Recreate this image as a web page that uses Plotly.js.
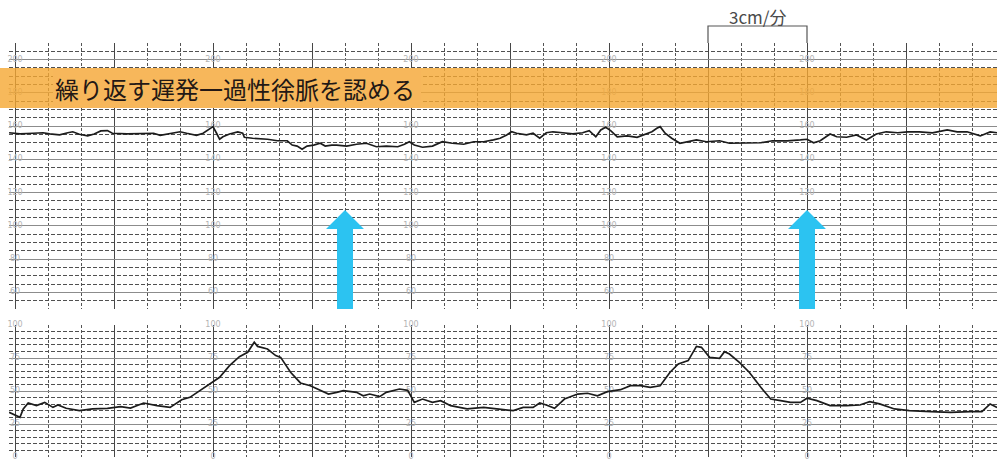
<!DOCTYPE html>
<html>
<head>
<meta charset="utf-8">
<script src="https://cdn.plot.ly/plotly-3.0.1.min.js"></script>
<style>
  html, body { margin: 0; padding: 0; background: #ffffff; }
  #ctg { width: 997px; height: 459px; }
</style>
</head>
<body>
<div id="ctg"></div>
<script>
// Cardiotocogram strip: fetal heart rate (top) and uterine contractions (bottom).
// Time is in seconds; paper speed is 3 cm per minute.

// Fetal heart rate trace (bpm)
const fhrTime = [-3.6, 3, 11, 17, 21, 27, 32, 35, 39, 44,
  48, 52, 56, 59, 68, 76, 84, 88, 94, 100,
  104, 110, 114, 118, 120, 122, 124, 126, 130, 135,
  138, 139, 144, 153, 159, 165, 168, 171, 174, 177,
  181, 185, 188, 192, 195, 201, 207, 213, 219, 225,
  232, 236, 239, 242, 247, 253, 259, 265, 272, 278,
  284, 290, 294, 298, 301, 304, 310, 314, 318, 322,
  326, 332, 338, 344, 348, 352, 355, 358, 361, 365,
  371, 377, 382, 386, 389, 391, 394, 398, 403, 407,
  413, 419, 427, 433, 444, 452, 459, 468, 476, 480,
  484, 488, 494, 498, 504, 510, 516, 522, 528, 535,
  541, 548, 556, 565, 571, 577, 585, 591, 595.2];
const fhrBpm = [156.0, 155.3, 155.7, 156.0, 155.3, 154.8, 156.0, 156.6, 155.1, 154.1,
  155.3, 157.1, 157.3, 155.7, 155.3, 155.3, 155.7, 154.5, 155.7, 156.6,
  155.7, 154.5, 155.7, 158.1, 159.7, 156.0, 152.1, 153.6, 155.3, 156.5,
  155.7, 153.3, 152.7, 152.1, 151.2, 151.2, 148.6, 148.0, 146.1, 148.0,
  148.6, 149.7, 148.0, 148.6, 148.6, 148.0, 149.1, 149.7, 147.6, 148.0,
  147.6, 149.1, 150.6, 148.6, 147.3, 148.0, 150.6, 149.7, 149.1, 150.6,
  150.6, 151.7, 152.7, 154.7, 156.6, 155.7, 154.7, 155.7, 152.7, 156.0,
  156.6, 156.0, 155.3, 156.0, 157.3, 153.6, 157.7, 159.3, 157.3, 153.6,
  154.1, 153.3, 155.3, 156.6, 158.7, 159.7, 155.7, 152.7, 149.7, 150.6,
  151.7, 150.6, 151.2, 149.7, 149.7, 150.0, 151.2, 151.1, 151.7, 152.1,
  150.0, 151.2, 155.3, 153.6, 153.3, 154.7, 151.7, 155.3, 156.6, 156.0,
  156.6, 156.6, 156.0, 157.7, 156.6, 156.6, 154.1, 156.5, 156.0];

// Uterine contraction trace (mmHg)
const ucTime = [-3.6, 0, 3, 5, 8, 13, 18, 23, 26, 31,
  39, 47, 56, 64, 70, 78, 86, 94, 101, 106,
  112, 118, 124, 130, 136, 141, 145, 147, 153, 158,
  161, 167, 173, 179, 185, 190, 195, 199, 207, 211,
  215, 221, 225, 233, 238, 242, 247, 253, 258, 264,
  274, 284, 292, 302, 308, 314, 318, 322, 327, 333,
  341, 347, 353, 359, 367, 373, 379, 385, 391, 397,
  402, 408, 413, 416, 421, 427, 430, 433, 439, 445,
  452, 458, 464, 470, 476, 480, 486, 494, 504, 512,
  518, 524, 533, 542, 555, 567, 579, 586, 591, 595.2];
const ucPressure = [33.8, 31.8, 30.1, 36.4, 40.9, 38.9, 41.4, 37.6, 39.4, 36.9,
  35.1, 36.4, 36.9, 38.1, 37.1, 40.9, 38.9, 37.6, 43.4, 45.2,
  50.3, 54.8, 60.4, 69.2, 76.0, 79.3, 86.9, 83.8, 81.8, 76.8,
  75.5, 64.2, 56.1, 54.0, 50.3, 47.7, 49.0, 50.3, 49.0, 46.4,
  47.7, 45.7, 49.0, 51.5, 50.5, 41.4, 43.9, 41.4, 42.7, 38.9,
  36.4, 37.6, 36.4, 35.1, 37.6, 37.6, 40.9, 39.4, 36.9, 43.9,
  47.7, 48.3, 46.4, 49.5, 51.0, 54.0, 54.0, 52.8, 54.0, 64.2,
  70.5, 73.0, 83.8, 83.1, 75.5, 74.8, 79.8, 78.0, 71.7, 64.2,
  52.8, 43.9, 42.7, 41.4, 41.4, 44.5, 42.7, 38.9, 38.9, 39.4,
  41.9, 40.2, 36.4, 35.1, 34.3, 33.8, 34.3, 34.3, 40.2, 37.6];

// Scale numbers printed on the chart paper
const scaleTimes = [0, 120, 240, 360, 480];
const fhrScaleLabels = [200, 180, 160, 140, 120, 100, 80, 60];
const ucScaleLabels = [100, 75, 50, 25, 0];

// Contraction peaks followed by late decelerations
const arrowTimes = [200, 480];

// One minute of paper = 3 cm
const speedBracket = [420, 480];
const speedLabel = '3cm/分';
const findingText = '繰り返す遅発一過性徐脈を認める';

// ---- layout helpers (pixel frame of the figure) ----
const W = 997, H = 459, ML = 9;
const py = p => 1 - p / H;                 // pixel row -> paper y
const pxx = p => (p - ML) / (W - ML);      // pixel column -> paper x

// printed scale numbers, drawn as text traces so overlays can cover them
function scaleTrace(values, yaxis) {
  const xs = [], ys = [], txt = [];
  scaleTimes.forEach(t => values.forEach(v => { xs.push(t); ys.push(v); txt.push(String(v)); }));
  return { x: xs, y: ys, text: txt, xaxis: 'x', yaxis: yaxis, type: 'scatter', mode: 'text',
    textposition: 'middle center', cliponaxis: false, hoverinfo: 'skip',
    textfont: { family: 'DejaVu Sans', size: 8, color: '#b4b4b4' } };
}

const traces = [
  scaleTrace(fhrScaleLabels, 'y'),
  scaleTrace(ucScaleLabels, 'y2'),
  { x: fhrTime, y: fhrBpm, xaxis: 'x', yaxis: 'y', type: 'scatter', mode: 'lines',
    line: { color: '#1c1c1c', width: 1.7 }, hoverinfo: 'skip' },
  { x: ucTime, y: ucPressure, xaxis: 'x', yaxis: 'y2', type: 'scatter', mode: 'lines',
    line: { color: '#1c1c1c', width: 1.7 }, hoverinfo: 'skip' }
];

const gridX = {
  range: [-3.64, 595.15], showticklabels: false, ticks: '', zeroline: false, showline: false,
  showgrid: true, tick0: 0, dtick: 60, gridcolor: '#474747', gridwidth: 1, griddash: 'solid',
  minor: { tick0: 0, dtick: 20, showgrid: true, gridcolor: '#555555', gridwidth: 1, griddash: '3px,2px' },
  fixedrange: true
};

const yCommon = {
  showticklabels: false, ticks: '', zeroline: false, showline: false, showgrid: true,
  gridcolor: '#8c8c8c', gridwidth: 1, griddash: 'solid', fixedrange: true
};

const minorY = dt => ({ tick0: 0, dtick: dt, showgrid: true, gridcolor: '#505050', gridwidth: 1, griddash: '4px,2px' });

const layout = {
  width: W, height: H,
  margin: { l: ML, r: 0, t: 0, b: 0, pad: 0 },
  paper_bgcolor: '#ffffff', plot_bgcolor: '#ffffff',
  showlegend: false,
  font: { family: 'Noto Sans CJK JP, Noto Sans, sans-serif' },
  xaxis: Object.assign({ anchor: 'y' }, gridX),
  yaxis: Object.assign({}, yCommon, {
    domain: [150 / H, 416 / H], range: [50, 210], tick0: 0, dtick: 20, minor: minorY(5)
  }),
  yaxis2: Object.assign({}, yCommon, {
    domain: [2 / H, 134 / H], range: [0, 100], tick0: 0, dtick: 25, anchor: 'x', minor: minorY(5)
  }),
  shapes: [],
  annotations: []
};

// highlighted finding band
layout.shapes.push({
  type: 'rect', xref: 'paper', yref: 'paper', layer: 'above',
  x0: pxx(0), x1: 1, y0: py(108), y1: py(68),
  fillcolor: 'rgba(245,168,50,0.80)', line: { width: 0 }
});
layout.shapes.push({
  type: 'rect', xref: 'paper', yref: 'paper', layer: 'above',
  x0: pxx(53), x1: pxx(421), y0: py(108), y1: py(68),
  fillcolor: '#F7B75B', line: { width: 0 }
});
layout.annotations.push({
  xref: 'paper', yref: 'paper', x: pxx(53), y: py(88), xanchor: 'left', yanchor: 'middle',
  text: findingText, showarrow: false,
  font: { family: 'Noto Sans CJK JP', size: 24, color: '#231815' }
});

// paper-speed bracket
const [b0, b1] = speedBracket;
layout.shapes.push({
  type: 'path', xref: 'x', yref: 'paper', layer: 'above',
  path: `M ${b0},${py(43)} L ${b0},${py(26)} L ${b1},${py(26)} L ${b1},${py(43)}`,
  line: { color: '#555555', width: 1.2 }
});
layout.annotations.push({
  xref: 'x', yref: 'paper', x: (b0 + b1) / 2, y: py(16), xanchor: 'center', yanchor: 'middle',
  text: speedLabel, showarrow: false,
  font: { family: 'Noto Sans CJK JP', size: 17, color: '#4a4a4a' }
});

// blue arrows marking the contraction peaks
const headHalf = 11.5, shaftHalf = 4.85;
arrowTimes.forEach(t => {
  const yTip = py(210), yHead = py(229), yEnd = py(309);
  layout.shapes.push({
    type: 'path', xref: 'x', yref: 'paper', layer: 'above',
    path: `M ${t - shaftHalf},${yEnd} L ${t - shaftHalf},${yHead} L ${t - headHalf},${yHead} ` +
          `L ${t},${yTip} L ${t + headHalf},${yHead} L ${t + shaftHalf},${yHead} L ${t + shaftHalf},${yEnd} Z`,
    fillcolor: '#2CC3F1', line: { width: 0 }
  });
});

Plotly.newPlot('ctg', traces, layout, { staticPlot: true, displayModeBar: false });
</script>
</body>
</html>
